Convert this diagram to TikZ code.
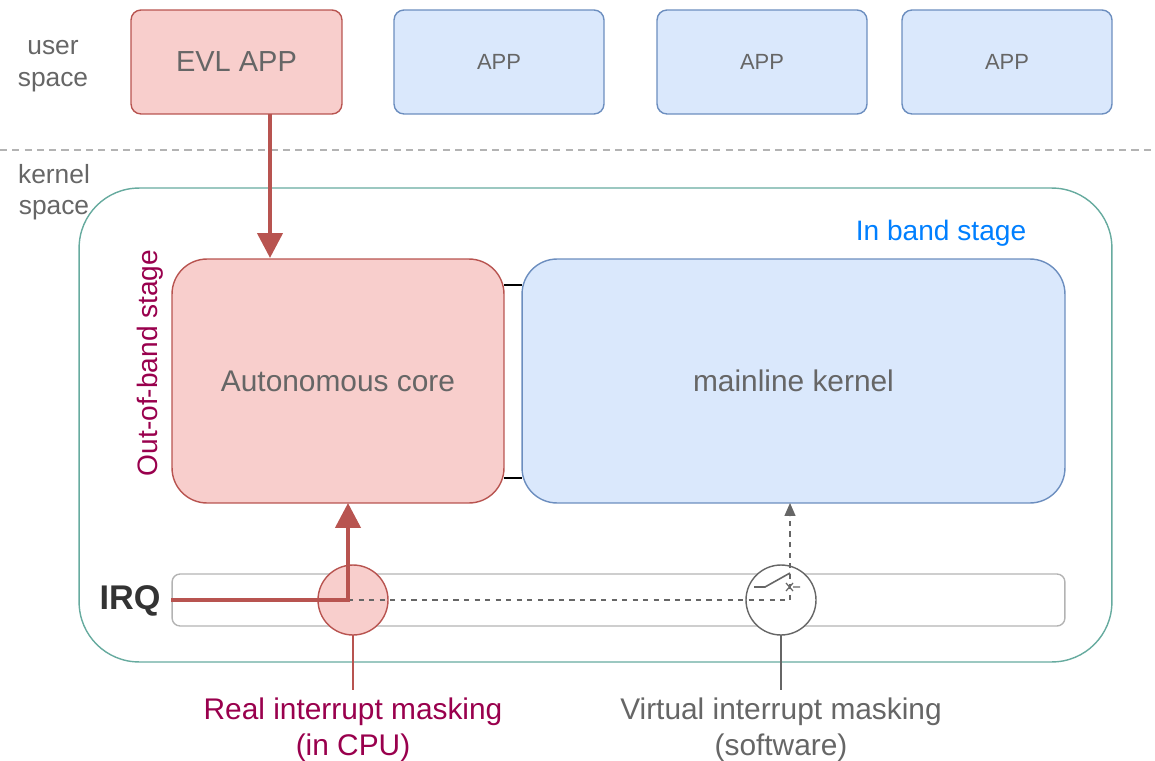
\documentclass[tikz,border=0pt]{standalone}
\usepackage{fontspec}
\setmainfont{Liberation Sans}
\usepackage{xcolor}
\usetikzlibrary{positioning, arrows.meta, calc}

\definecolor{redfill}{HTML}{F8CECC}
\definecolor{reddraw}{HTML}{B85450}
\definecolor{bluefill}{HTML}{DAE8FC}
\definecolor{bluedraw}{HTML}{6C8EBF}
\definecolor{tealdraw}{HTML}{67AB9F}
\definecolor{txtgray}{HTML}{666666}
\definecolor{lightgray}{HTML}{B3B3B3}
\definecolor{maroon}{HTML}{99004D}
\definecolor{inband}{HTML}{007FFF}

\tikzset{
  appbox/.style={draw=bluedraw, fill=bluefill, line width=0.8pt, rounded corners=0.2cm,
    minimum width=4.2cm, minimum height=2.08cm, inner sep=0pt, outer sep=0pt,
    text=txtgray, font=\fontsize{12.5}{14}\selectfont},
  evlbox/.style={appbox, draw=reddraw, fill=redfill, minimum width=4.22cm,
    font=\fontsize{16.5}{18}\selectfont},
  corebox/.style={draw=reddraw, fill=redfill, line width=0.8pt, rounded corners=0.7cm,
    minimum height=4.88cm, inner sep=0pt, outer sep=0pt, text=txtgray,
    font=\fontsize{17}{20}\selectfont},
  maskring/.style={circle, draw=txtgray, fill=white, line width=0.8pt,
    minimum size=1.4cm, inner sep=0pt, outer sep=0pt},
  label/.style={text=txtgray, font=\fontsize{15}{18}\selectfont, align=center},
  bigarrow/.style={reddraw, line width=2.5pt, -{Triangle[length=0.5cm, width=0.5cm]}}
}

\begin{document}
\begin{tikzpicture}[x=0.02cm, y=-0.02cm]
  \useasboundingbox (0,0) rectangle (1155,760);

  % user space
  \node[label] (user) at (53,66) {user\\space};
  \node[evlbox] (evl) at (236.5,62) {EVL APP};
  \foreach \i/\x in {1/499, 2/762, 3/1007} {
    \node[appbox] (app\i) at (\x,62) {APP};
  }

  % separator
  \draw[lightgray, line width=0.8pt, dash pattern=on 4pt off 3pt] (0,150) -- (1155,150);

  % kernel space
  \node[label] (kernel) at (54,192) {kernel\\space};
  \node[draw=tealdraw, line width=0.8pt, rounded corners=1.2cm, minimum width=20.66cm,
    minimum height=9.48cm, inner sep=0pt] (kbox) at (595.5,425) {};
  \node[text=inband, font=\fontsize{16}{19}\selectfont] (inband) at (941,233) {In band stage};
  \node[rotate=90, text=maroon, font=\fontsize{16}{19}\selectfont] (oob) at (150,363) {Out-of-band stage};

  % stages
  \node[corebox, minimum width=6.64cm] (core) at (338,381) {Autonomous core};
  \node[corebox, draw=bluedraw, fill=bluefill, minimum width=10.86cm] (mainline) at (793.5,381) {mainline kernel};
  \draw[line width=0.8pt] (504,285) -- (522,285);
  \draw[line width=0.8pt] (504,478) -- (522,478);

  % IRQ line
  \node[draw=lightgray, line width=0.8pt, rounded corners=0.16cm, minimum width=17.86cm,
    minimum height=1.04cm, inner sep=0pt] (irqbar) at (618.5,600) {};
  \node[font=\fontsize{19.5}{22}\selectfont\bfseries, text=black!80] (irq) at (130,601) {IRQ};

  \node[maskring, draw=reddraw, fill=redfill] (real) at (353,600) {};
  \node[maskring] (virt) at (781,600) {};

  \coordinate (bend) at (348,600);
  \coordinate (vbend) at (790,600);
  \draw[txtgray, line width=0.7pt, dash pattern=on 3pt off 3pt] (bend) -- (vbend);
  \draw[txtgray, line width=0.7pt, dash pattern=on 3pt off 3pt, -{Triangle[length=0.26cm, width=0.22cm]}]
    (vbend) -- (vbend |- mainline.south);
  \draw[bigarrow] (irqbar.west) -- (bend) -- (bend |- core.south);

  % switch
  \draw[txtgray, line width=0.9pt] (754,587) -- (765,587) -- (790,573);
  \draw[txtgray, line width=0.7pt] (786,583) -- (793,591) (786,591) -- (793,583) (793,587) -- (800,587);

  % masking labels
  \coordinate (reallow) at (353,690);
  \coordinate (virtlow) at (781,690);
  \coordinate (evlfoot) at (270,114);
  \coordinate (coretop) at (270,258);
  \node[label, text=maroon, font=\fontsize{17}{20.5}\selectfont] (reallbl) at (353,730) {Real interrupt masking\\(in CPU)};
  \node[label, font=\fontsize{17}{20.5}\selectfont] (virtlbl) at (781,730) {Virtual interrupt masking\\(software)};
  \draw[reddraw, line width=0.8pt] (real.south) -- (reallow);
  \draw[txtgray, line width=0.8pt] (virt.south) -- (virtlow);

  \draw[bigarrow] (evlfoot) -- (coretop);
\end{tikzpicture}
\end{document}
